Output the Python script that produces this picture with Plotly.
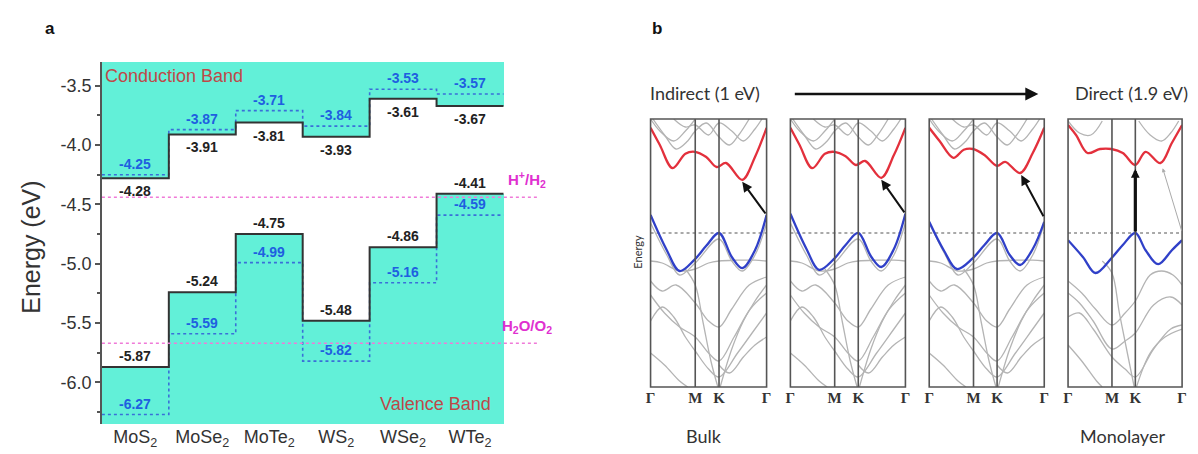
import plotly.graph_objects as go

W, H = 1198, 454

# ---------------- panel a data ----------------
materials = ["MoS<sub>2</sub>", "MoSe<sub>2</sub>", "MoTe<sub>2</sub>",
             "WS<sub>2</sub>", "WSe<sub>2</sub>", "WTe<sub>2</sub>"]
cb_black = [-4.28, -3.91, -3.81, -3.93, -3.61, -3.67]
cb_blue = [-4.25, -3.87, -3.71, -3.84, -3.53, -3.57]
vb_black = [-5.87, -5.24, -4.75, -5.48, -4.86, -4.41]
vb_blue = [-6.27, -5.59, -4.99, -5.82, -5.16, -4.59]
redox_levels = [-4.44, -5.67]
redox_names = ["H<sup>+</sup>/H<sub>2</sub>", "H<sub>2</sub>O/O<sub>2</sub>"]
y_tick_vals = [-3.5, -4.0, -4.5, -5.0, -5.5, -6.0]

Y_TOP, Y_BOT = -3.30, -6.35

# ---------------- panel b data (k path 0..1, energy rel. to VBM) ----------------
k_labels = ["Γ", "M", "K", "Γ"]
k_ticks = [0.0, 0.385, 0.59, 1.0]

cb_k = [
    [0, 0.08, 0.19, 0.3, 0.38, 0.48, 0.57, 0.65, 0.79, 0.9, 1.0],
    [0, 0.08, 0.19, 0.3, 0.38, 0.48, 0.57, 0.65, 0.79, 0.9, 1.0],
    [0, 0.09, 0.21, 0.3, 0.38, 0.48, 0.59, 0.66, 0.79, 0.9, 1.0],
    [0, 0.07, 0.17, 0.28, 0.38, 0.48, 0.59, 0.68, 0.81, 0.91, 1.0],
]
cb_E = [
    [2.63, 2.2, 1.62, 1.98, 2.03, 1.9, 1.65, 1.75, 1.33, 1.9, 2.63],
    [2.63, 2.2, 1.62, 1.98, 2.03, 1.92, 1.7, 1.8, 1.38, 1.95, 2.63],
    [2.63, 2.3, 1.88, 2.08, 2.1, 1.95, 1.68, 1.78, 1.5, 2.0, 2.63],
    [2.7, 2.45, 2.0, 2.1, 2.1, 2.0, 1.7, 2.03, 1.75, 2.25, 2.7],
]
vb_k = [
    [0, 0.14, 0.25, 0.375, 0.48, 0.59, 0.7, 0.79, 0.9, 1.0],
    [0, 0.14, 0.25, 0.375, 0.48, 0.59, 0.7, 0.79, 0.9, 1.0],
    [0, 0.13, 0.24, 0.375, 0.48, 0.59, 0.7, 0.79, 0.9, 1.0],
    [0, 0.13, 0.24, 0.38, 0.48, 0.59, 0.68, 0.79, 0.91, 1.0],
]
vb_E = [
    [0.45, -0.43, -0.95, -0.68, -0.32, 0.0, -0.6, -0.88, -0.43, 0.45],
    [0.48, -0.4, -0.92, -0.66, -0.3, 0.0, -0.58, -0.85, -0.4, 0.48],
    [0.28, -0.45, -0.9, -0.64, -0.3, 0.0, -0.55, -0.8, -0.4, 0.28],
    [-0.18, -0.6, -1.0, -0.63, -0.3, 0.0, -0.43, -0.78, -0.43, -0.18],
]

bulk_gray_k = [
    [0, 0.08, 0.2, 0.3, 0.385],
    [0.02, 0.12, 0.22, 0.32, 0.385, 0.48, 0.59, 0.68, 0.76, 0.85],
    [0.2, 0.3, 0.385, 0.5, 0.59, 0.7, 0.8, 0.9, 0.96],
    [0, 0.14, 0.25, 0.385, 0.59, 0.7, 0.79, 0.9, 1.0],
    [0, 0.1, 0.25, 0.385, 0.5, 0.59, 0.75, 0.9, 1.0],
    [0, 0.1, 0.22, 0.385, 0.5, 0.59, 0.7, 0.85, 1.0],
    [0, 0.12, 0.25, 0.385, 0.5, 0.59, 0.72, 0.86, 1.0],
    [0, 0.1, 0.2, 0.3, 0.385, 0.5, 0.59, 0.75, 0.9, 1.0],
    [0.3, 0.385, 0.45, 0.52, 0.58],
    [0.6, 0.7, 0.8, 0.9, 1.0],
    [0, 0.12, 0.25, 0.32],
    [0.59, 0.68, 0.8, 0.9, 1.0],
]
bulk_gray_E = [
    [2.85, 2.55, 2.3, 2.55, 2.85],
    [2.85, 2.45, 2.1, 2.3, 2.55, 2.75, 2.4, 2.2, 2.45, 2.85],
    [2.85, 2.65, 2.7, 2.45, 2.75, 2.55, 2.3, 2.6, 2.85],
    [0.25, -0.55, -1.05, -0.75, -0.15, -0.7, -0.95, -0.55, 0.25],
    [-0.7, -0.75, -0.95, -0.9, -0.75, -0.7, -0.68, -0.68, -0.7],
    [-1.2, -1.45, -1.3, -1.75, -2.2, -2.35, -1.9, -1.3, -1.1],
    [-1.55, -2.0, -2.35, -2.6, -3.0, -3.2, -2.6, -1.9, -1.5],
    [-2.2, -1.85, -2.1, -2.6, -2.95, -3.4, -3.6, -3.0, -2.4, -2.0],
    [-0.9, -1.3, -2.2, -3.2, -3.85],
    [-3.85, -2.9, -2.2, -1.7, -1.3],
    [-3.0, -3.3, -3.7, -3.85],
    [-3.3, -3.5, -3.1, -2.8, -2.6],
]
mono_gray_k = [
    [0.0, 0.1, 0.2, 0.3],
    [0.62, 0.72, 0.82, 0.9, 0.97],
    [0, 0.12, 0.24, 0.385, 0.5, 0.59, 0.72, 0.82, 0.92, 1.0],
    [0, 0.1, 0.22, 0.385, 0.5, 0.59, 0.75, 0.9, 1.0],
    [0, 0.1, 0.22, 0.385, 0.5, 0.59, 0.75, 0.9, 1.0],
    [0.3, 0.385, 0.45, 0.52, 0.58],
    [0, 0.12, 0.25, 0.3],
    [0.6, 0.72, 0.85, 1.0],
]
mono_gray_E = [
    [2.8, 2.5, 2.45, 2.8],
    [2.8, 2.45, 2.3, 2.5, 2.8],
    [-1.2, -1.5, -1.9, -2.3, -2.0, -1.7, -1.05, -0.95, -1.05, -1.3],
    [-1.5, -1.75, -2.2, -2.9, -2.7, -2.5, -1.8, -1.6, -1.8],
    [-2.1, -2.0, -2.4, -3.1, -3.4, -3.6, -2.9, -2.4, -2.3],
    [-0.7, -1.0, -2.0, -3.0, -3.85],
    [-2.8, -3.2, -3.7, -3.85],
    [-3.85, -3.0, -2.6, -2.4],
]
# transitions (tail k, tail E) -> (head k, head E)
arrow_tail = [(1.0, 0.45), (1.0, 0.48), (1.0, 0.38), (0.59, 0.0)]
arrow_head = [(0.79, 1.28), (0.79, 1.33), (0.8, 1.45), (0.59, 1.6)]
panel_px = [(651, 768), (792, 908), (932, 1048), (1072, 1187)]


def px(x):
    return x / W


def py(y):
    return 1 - y / H


fig = go.Figure()

CYAN = "#62f0d8"
BLUE = "#1f5fe0"
DARK = "#333333"
FONT = "Liberation Sans"

xc = [i + 0.5 for i in range(len(materials))]
# conduction band fill
fig.add_trace(go.Bar(x=xc, y=[Y_TOP - v for v in cb_black], base=cb_black, width=1,
                     marker=dict(color=CYAN, line=dict(width=0)), hoverinfo="skip"))
# valence band fill
fig.add_trace(go.Bar(x=xc, y=[v - Y_BOT for v in vb_black], base=[Y_BOT] * 6, width=1,
                     marker=dict(color=CYAN, line=dict(width=0)), hoverinfo="skip"))

xs = list(range(len(materials) + 1))
for vals in (cb_blue, vb_blue):
    fig.add_trace(go.Scatter(x=xs, y=vals + [vals[-1]], mode="lines", line_shape="hv",
                             line=dict(color="#3a6fd8", width=1.6, dash="3px,3px")))
for vals in (cb_black, vb_black):
    fig.add_trace(go.Scatter(x=xs, y=vals + [vals[-1]], mode="lines", line_shape="hv",
                             line=dict(color=DARK, width=2)))
for lv in redox_levels:
    fig.add_trace(go.Scatter(x=[0, 6.51], y=[lv, lv], mode="lines",
                             line=dict(color="#f07ad8", width=1.5, dash="dot")))

ann = []
for i, v in enumerate(cb_black):
    ann.append(dict(x=xc[i], y=v, text=f"<b>{v:.2f}</b>", yanchor="top", yshift=-3,
                    showarrow=False, font=dict(size=14, color="#222", family=FONT)))
for i, v in enumerate(vb_black):
    ann.append(dict(x=xc[i], y=v, text=f"<b>{v:.2f}</b>", yanchor="bottom", yshift=1,
                    showarrow=False, font=dict(size=14, color="#222", family=FONT)))
for vals in (cb_blue, vb_blue):
    for i, v in enumerate(vals):
        ann.append(dict(x=xc[i], y=v, text=f"<b>{v:.2f}</b>", yanchor="bottom", yshift=1,
                        showarrow=False, font=dict(size=14, color=BLUE, family=FONT)))
for lv, name in zip(redox_levels, redox_names):
    ann.append(dict(x=6.35, y=lv, text=f"<b>{name}</b>", xanchor="center", yanchor="bottom",
                    yshift=5, showarrow=False, font=dict(size=15, color="#e030d0", family=FONT)))
ann.append(dict(x=0.02, y=Y_TOP, text="Conduction Band", xanchor="left", yanchor="top", yshift=-2,
                showarrow=False, font=dict(size=18, color="#bf4848", family=FONT)))
ann.append(dict(x=5.85, y=Y_BOT, text="Valence Band", xanchor="right", yanchor="bottom", yshift=8,
                showarrow=False, font=dict(size=18, color="#bf4848", family=FONT)))


def paper_text(x, y, text, size, family, color=DARK, xanchor="center", angle=0):
    ann.append(dict(xref="paper", yref="paper", x=px(x), y=py(y), text=text, textangle=angle,
                    xanchor=xanchor, yanchor="middle", showarrow=False,
                    font=dict(size=size, color=color, family=family)))


paper_text(26, 247, "Energy (eV)", 25, FONT, angle=-90)
paper_text(45, 28, "<b>a</b>", 17, FONT, color="#111")
paper_text(657, 28, "<b>b</b>", 17, FONT, color="#111")

# ---------------- panel b ----------------
LATO = "Lato"
for p in range(4):
    xa = f"x{p + 2}"
    gk, gE = (bulk_gray_k, bulk_gray_E) if p < 3 else (mono_gray_k, mono_gray_E)
    for kk, ee in zip(gk, gE):
        fig.add_trace(go.Scatter(x=kk, y=ee, mode="lines", line_shape="spline",
                                 line=dict(color="#b4b4b4", width=1.3), xaxis=xa, yaxis="y2"))
    fig.add_trace(go.Scatter(x=[0, 1], y=[0, 0], mode="lines",
                             line=dict(color="#555", width=1.2, dash="3px,3px"), xaxis=xa, yaxis="y2"))
    fig.add_trace(go.Scatter(x=cb_k[p], y=cb_E[p], mode="lines", line_shape="spline",
                             line=dict(color="#e3303c", width=2.3), xaxis=xa, yaxis="y2"))
    fig.add_trace(go.Scatter(x=vb_k[p], y=vb_E[p], mode="lines", line_shape="spline",
                             line=dict(color="#3040c8", width=2.3), xaxis=xa, yaxis="y2"))
    # panel frame and M, K lines
    fig.add_shape(type="rect", xref=f"{xa} domain", yref="y2 domain", x0=0, x1=1, y0=0, y1=1,
                  line=dict(color="#555", width=1.6))
    for kv in k_ticks[1:3]:
        fig.add_shape(type="line", xref=xa, yref="y2 domain", x0=kv, x1=kv, y0=0, y1=1,
                      line=dict(color="#555", width=1.6))
    (tk, tE), (hk, hE) = arrow_tail[p], arrow_head[p]
    ann.append(dict(x=hk, y=hE, ax=tk, ay=tE, xref=xa, yref="y2", axref=xa, ayref="y2",
                    showarrow=True, arrowhead=2, arrowsize=0.55 if p == 3 else 1,
                    arrowwidth=3.2 if p == 3 else 2, arrowcolor="#111", text=""))
ann.append(dict(x=0.83, y=1.62, ax=1.0, ay=0.02, xref="x5", yref="y2", axref="x5", ayref="y2",
                showarrow=True, arrowhead=2, arrowsize=0.8, arrowwidth=1, arrowcolor="#aaa", text=""))

paper_text(648, 93, "Indirect (1 eV)", 18, LATO, xanchor="left")
paper_text(1195, 93, "Direct (1.9 eV)", 18, LATO, xanchor="right")
ann.append(dict(xref="paper", yref="paper", x=px(1042), y=py(94), ax=-245, ay=0,
                axref="pixel", ayref="pixel", showarrow=True, arrowhead=2, arrowsize=1,
                arrowwidth=2.6, arrowcolor="#111", text=""))
paper_text(705, 436, "Bulk", 18, LATO)
paper_text(1127, 436, "Monolayer", 18, LATO)
paper_text(637, 252, "Energy", 11, LATO, angle=-90)

layout_axes = {}
for p, (l, r) in enumerate(panel_px):
    layout_axes[f"xaxis{p + 2}"] = dict(
        domain=[px(l), px(r)], range=[0, 1], anchor="y2", showgrid=False, zeroline=False,
        showline=False, tickvals=k_ticks, ticktext=[f"<b>{t}</b>" for t in k_labels], ticks="",
        tickfont=dict(family="Liberation Serif", size=15, color=DARK), fixedrange=True)

fig.update_layout(
    width=W, height=H, margin=dict(l=0, r=0, t=0, b=0),
    paper_bgcolor="white", plot_bgcolor="rgba(0,0,0,0)",
    showlegend=False, barmode="overlay", bargap=0,
    xaxis=dict(domain=[px(97.7), px(97.7 + 6.8 * 67.5)], range=[0, 6.8], showgrid=False,
               zeroline=False, showline=False, tickvals=xc, ticktext=materials, ticks="",
               tickfont=dict(family=FONT, size=18, color=DARK)),
    yaxis=dict(domain=[py(424), py(62)], range=[Y_BOT, Y_TOP], showgrid=False, zeroline=False,
               showline=True, linecolor="#555", linewidth=1.5, ticks="outside", ticklen=5,
               tickwidth=1.5, tickcolor="#555", tickvals=y_tick_vals,
               ticktext=[f"{v:.1f}" for v in y_tick_vals],
               minor=dict(tickvals=[-3.75, -4.25, -4.75, -5.25, -5.75, -6.25], ticks="outside",
                          ticklen=3, tickcolor="#555"),
               tickfont=dict(family=FONT, size=18, color=DARK)),
    yaxis2=dict(domain=[py(387), py(119)], range=[-3.85, 2.85], anchor="x2", showgrid=False,
                zeroline=False, showline=False, showticklabels=False, ticks=""),
    annotations=ann,
    **layout_axes,
)

fig.write_html("out.html")
